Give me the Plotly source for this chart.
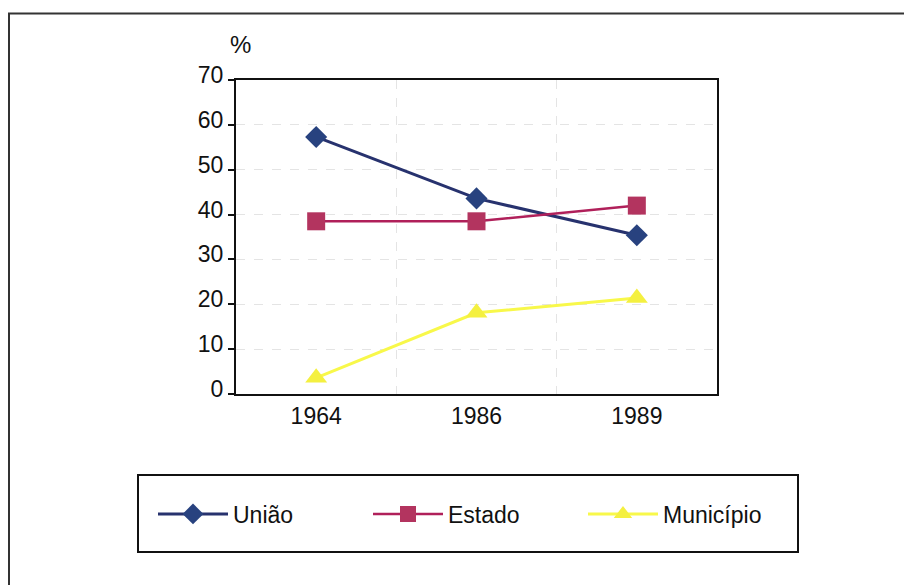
import plotly.graph_objects as go

years = ["1964", "1986", "1989"]
uniao = [57.3, 43.6, 35.4]
estado = [38.5, 38.5, 42.0]
municipio = [3.6, 18.1, 21.4]
y_ticks = [0, 10, 20, 30, 40, 50, 60, 70]

FONT = "Arial, Liberation Sans, sans-serif"

fig = go.Figure()
fig.add_trace(go.Scatter(
    x=years, y=uniao, name="União", mode="lines+markers",
    line=dict(color="#27326e", width=3),
    marker=dict(symbol="diamond", size=17, color="#28427f"),
))
fig.add_trace(go.Scatter(
    x=years, y=estado, name="Estado", mode="lines+markers",
    line=dict(color="#b0205a", width=2.5),
    marker=dict(symbol="square", size=18, color="#b3345f"),
))
fig.add_trace(go.Scatter(
    x=years, y=municipio, name="Município", mode="lines+markers",
    line=dict(color="#f8f84a", width=3),
    marker=dict(symbol="triangle-up", size=19, color="#f4f040"),
))

W, H = 904, 585
L, R, T, B = 236, 187, 80, 191
pw, ph = W - L - R, H - T - B

def px(x):
    return (x - L) / pw

def py(y):
    return (H - B - y) / ph

fig.update_layout(
    width=W, height=H,
    margin=dict(l=L, r=R, t=T, b=B),
    paper_bgcolor="white", plot_bgcolor="white",
    font=dict(family=FONT, size=23, color="#111"),
    showlegend=True,
    legend=dict(
        orientation="h",
        x=px(153), xanchor="left",
        y=py(514), yanchor="middle",
        entrywidth=130, entrywidthmode="pixels",
        itemwidth=70,
        font=dict(family=FONT, size=23, color="#111"),
        bgcolor="rgba(0,0,0,0)",
        traceorder="normal",
    ),
    xaxis=dict(
        type="category", range=[-0.5, 2.5],
        showline=True, linecolor="#111", linewidth=2, mirror=True,
        showgrid=True, gridcolor="#e4e4e4", griddash="dash", gridwidth=1,
        tickson="boundaries", ticks="", ticklen=0,
        tickfont=dict(family=FONT, size=23, color="#111"),
        zeroline=False,
    ),
    yaxis=dict(
        range=[0, 70], tickvals=y_ticks,
        showline=True, linecolor="#111", linewidth=2, mirror=True,
        showgrid=True, gridcolor="#e4e4e4", griddash="dash", gridwidth=1,
        ticks="outside", ticklen=6, tickcolor="#111", tickwidth=1.5,
        tickfont=dict(family=FONT, size=23, color="#111"),
        zeroline=False,
        ticklabelshift=-5,
    ),
    shapes=[
        dict(type="rect", xref="paper", yref="paper",
             x0=px(9), x1=px(W + 20), y0=py(H + 20), y1=py(13.5),
             line=dict(color="#333", width=2), layer="below"),
        dict(type="rect", xref="paper", yref="paper",
             x0=px(138), x1=px(798), y0=py(552), y1=py(475),
             line=dict(color="#111", width=2), layer="below"),
    ],
    annotations=[
        dict(text="%", xref="paper", yref="paper", x=px(240), y=py(45),
             xanchor="center", yanchor="middle", showarrow=False,
             font=dict(family=FONT, size=24, color="#111")),
    ],
)

fig.write_html(
    "out.html",
    config={"displayModeBar": False},
    post_script="document.body.style.margin='0';document.body.style.overflow='hidden';",
)
